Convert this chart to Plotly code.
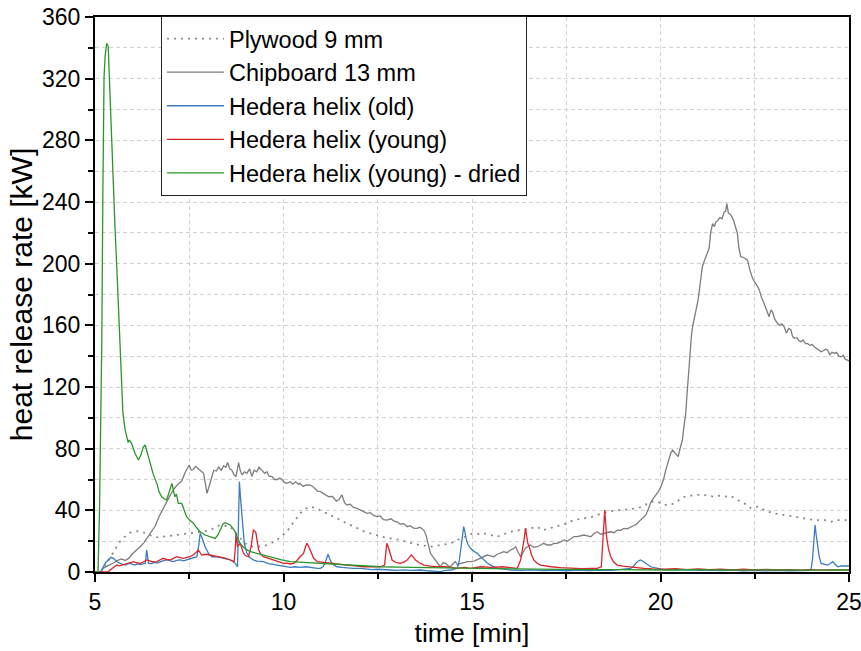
import plotly.graph_objects as go

# ---------------- data ----------------
ply_t = [5.15, 5.25, 5.31, 5.4, 5.49, 5.58, 5.66, 5.75, 5.84, 5.93, 6.02, 6.1, 6.2, 6.3, 6.37, 6.46, 6.55, 6.68, 6.81, 6.95,
         7.08, 7.25, 7.43, 7.6, 7.79, 7.92, 8.05, 8.2, 8.32, 8.45, 8.59, 8.7, 8.81, 8.9, 8.98, 9.1, 9.2, 9.38, 9.56, 9.7,
         9.83, 9.96, 10.09, 10.18, 10.3, 10.44, 10.58, 10.71, 10.85, 10.98, 11.1, 11.24, 11.38, 11.51, 11.64, 11.77, 11.9, 12.04, 12.17, 12.3,
         12.44, 12.57, 12.7, 12.84, 12.97, 13.1, 13.24, 13.37, 13.5, 13.63, 13.77, 13.9, 14.03, 14.16, 14.3, 14.43, 14.56, 14.69, 14.82, 14.96,
         15.1, 15.23, 15.31, 15.49, 15.67, 15.84, 16.02, 16.16, 16.29, 16.42, 16.55, 16.73, 16.86, 17.0, 17.2, 17.44, 17.7, 17.97, 18.15, 18.32,
         18.46, 18.59, 18.77, 18.94, 19.12, 19.39, 19.56, 19.74, 19.92, 20.01, 20.1, 20.19, 20.27, 20.45, 20.63, 20.8, 20.98, 21.16, 21.3, 21.42,
         21.55, 21.69, 21.87, 22.04, 22.17, 22.31, 22.4, 22.49, 22.58, 22.66, 22.75, 22.88, 23.02, 23.15, 23.28, 23.42, 23.55, 23.68, 23.82, 23.95,
         24.08, 24.22, 24.35, 24.52, 24.7, 24.88, 25.0]
ply_v = [0, 3, 5.6, 9, 13.2, 16.5, 19.7, 22, 24, 25.5, 26.1, 26.5, 26.1, 25.5, 25.1, 24, 22.9, 22.5, 22.9, 23.5,
         24, 24.5, 25.1, 25.5, 26.1, 26.5, 27.2, 29, 30.5, 30, 29.4, 26, 22.9, 20.5, 18.6, 17, 16.4, 16.4, 17.5, 19,
         20.8, 23.5, 26.1, 29.4, 33.5, 38, 41, 42.4, 41.5, 40.2, 38.5, 37, 35.5, 33.7, 32, 30.5, 29, 27.2, 26, 25.1,
         24, 22.9, 22.3, 21.8, 21.3, 20.8, 19.7, 18.6, 18, 17.5, 17, 16.4, 16.9, 17.5, 18, 18.6, 20, 21.8, 23, 24.5,
         25, 24.5, 25.1, 24, 22.9, 24.5, 26.1, 26.7, 27.2, 27.7, 28.3, 29.4, 27, 28, 29.5, 31, 33.7, 34.8, 35.5, 37,
         38, 39.1, 39.8, 40.2, 40.8, 41.3, 43, 45.6, 45.6, 44.5, 43.5, 43.5, 43.5, 46, 48.8, 49.5, 50, 50, 49.3, 48.8,
         49.5, 48.8, 49.3, 46.7, 45, 43.5, 41.3, 42, 42.4, 41.2, 40.2, 39, 38, 37.5, 37, 36.5, 35.9, 35.3, 34.8, 34.3,
         33.7, 33.7, 33.7, 32.6, 33.7, 33.7, 33.5]

chip_t = [5.15, 5.22, 5.3, 5.4, 5.5, 5.6, 5.7, 5.8, 5.9, 6.0, 6.1, 6.2, 6.3, 6.4, 6.5, 6.6, 6.7, 6.8, 6.9, 7.0,
          7.1, 7.2, 7.3, 7.4, 7.5, 7.55, 7.6, 7.67, 7.74, 7.82, 7.88, 7.93, 7.97, 8.02, 8.08, 8.15, 8.22, 8.28, 8.35, 8.41,
          8.47, 8.52, 8.57, 8.63, 8.69, 8.74, 8.79, 8.81, 8.85, 8.9, 8.96, 9.03, 9.1, 9.16, 9.22, 9.29, 9.35, 9.43, 9.5, 9.56,
          9.62, 9.69, 9.76, 9.83, 9.9, 9.96, 10.03, 10.09, 10.18, 10.25, 10.32, 10.4, 10.44, 10.52, 10.6, 10.71, 10.8, 10.9, 10.98, 11.05,
          11.12, 11.2, 11.3, 11.4, 11.47, 11.55, 11.62, 11.68, 11.77, 11.85, 11.95, 12.05, 12.12, 12.22, 12.3, 12.4, 12.48, 12.56, 12.65, 12.75,
          12.85, 12.93, 13.01, 13.1, 13.18, 13.28, 13.36, 13.45, 13.54, 13.62, 13.72, 13.78, 13.81, 13.86, 13.9, 13.96, 14.03, 14.1, 14.16, 14.23,
          14.3, 14.37, 14.43, 14.5, 14.56, 14.62, 14.69, 14.78, 14.87, 14.96, 15.05, 15.14, 15.23, 15.31, 15.4, 15.49, 15.58, 15.67, 15.75, 15.84,
          15.93, 16.02, 16.09, 16.16, 16.22, 16.29, 16.35, 16.42, 16.48, 16.55, 16.64, 16.73, 16.82, 16.9, 17.0, 17.09, 17.17, 17.26, 17.35, 17.44,
          17.53, 17.62, 17.7, 17.79, 17.88, 17.97, 18.06, 18.15, 18.24, 18.32, 18.41, 18.5, 18.59, 18.68, 18.77, 18.85, 18.94, 19.03, 19.12, 19.21,
          19.28, 19.34, 19.4, 19.47, 19.54, 19.61, 19.68, 19.74, 19.8, 19.87, 19.94, 20.01, 20.08, 20.14, 20.2, 20.27, 20.32, 20.36, 20.42, 20.47,
          20.52, 20.58, 20.62, 20.67, 20.7, 20.73, 20.76, 20.79, 20.82, 20.85, 20.9, 20.96, 21.0, 21.02, 21.06, 21.11, 21.15, 21.2, 21.25, 21.29,
          21.33, 21.38, 21.43, 21.47, 21.52, 21.58, 21.63, 21.69, 21.73, 21.76, 21.8, 21.87, 21.94, 22.0, 22.04, 22.08, 22.13, 22.2, 22.26, 22.31,
          22.37, 22.44, 22.5, 22.56, 22.62, 22.68, 22.75, 22.82, 22.88, 22.93, 22.97, 23.03, 23.1, 23.16, 23.22, 23.28, 23.34, 23.4, 23.46, 23.5,
          23.55, 23.62, 23.67, 23.72, 23.78, 23.85, 23.9, 23.96, 24.02, 24.08, 24.14, 24.2, 24.26, 24.32, 24.38, 24.43, 24.49, 24.55, 24.61, 24.67,
          24.73, 24.79, 24.85, 24.9, 24.96, 25.0]
chip_v = [0, 2.4, 3.5, 4.5, 6, 7.5, 8.5, 7.5, 9, 12, 14, 16.4, 19, 22.5, 26, 30, 36, 41, 45, 50,
          54, 57, 59, 65, 69.4, 66, 66.5, 68.5, 67, 65.5, 64, 57, 51, 55, 60, 66, 65.5, 68, 66, 69,
          68, 71, 67, 66, 63, 62, 68, 71, 66, 63, 65, 64, 67, 62, 66, 65, 68, 66, 64, 65,
          62, 62, 60, 60, 61, 60, 58, 57.5, 58.6, 57, 58.5, 57, 57.5, 55.5, 56.5, 56.4, 55, 52.5, 52.1, 51,
          50, 48.8, 49, 46, 47, 50, 45, 43.5, 44, 42, 41.3, 40, 39.5, 38, 38.5, 36.5, 35.9, 36.5, 34, 33.7,
          34.5, 33, 32.6, 31, 31.5, 29.4, 30, 28.5, 28.3, 29, 27.2, 24, 20.8, 16, 12.1, 10, 7.8, 5.5, 3.4, 6,
          5.6, 4, 3.4, 5.5, 6.7, 4.5, 5.6, 6, 6.7, 6.7, 7, 8, 8.9, 10, 11, 10.5, 9.9, 11.5, 12.5, 13.2,
          12.5, 14.3, 15, 16.4, 13, 9.9, 12.5, 15.4, 16.5, 17.5, 16, 16.4, 17.5, 18.6, 17.5, 17.5, 18.5, 18.6, 19.5, 20.8,
          20, 21.8, 23, 22.9, 23.5, 24, 23.5, 22.9, 25, 26.1, 24.5, 25.1, 26, 26.1, 25.5, 27.2, 27, 28.3, 28, 29.4,
          30, 30.5, 32, 33.7, 35, 37, 41, 45, 47.5, 49.9, 52, 55.3, 60, 66.1, 71, 77, 79, 78, 76, 74.8,
          80, 85.6, 94, 103, 114, 124.5, 136, 146, 153, 159, 166, 172, 177, 180.7, 189, 198, 201, 204.5, 207, 210,
          220, 226, 224, 227, 228, 230, 229, 233.7, 234, 239, 233, 231.5, 228, 222, 219.6, 210, 204.5, 204, 203, 202.3,
          196, 190.5, 188, 186, 183, 178, 174, 170, 165.6, 170, 168.8, 164, 161.3, 160, 161, 159, 155, 158, 157, 153,
          151.6, 152, 150, 149.4, 150.5, 148, 148.3, 147, 147.5, 146.1, 145, 144.5, 142.9, 143.5, 144.5, 144, 141, 142.5, 141.8, 142.5,
          140, 139.6, 140.5, 138, 137.5, 137]

old_t = [5.0, 5.15, 5.22, 5.28, 5.35, 5.42, 5.49, 5.57, 5.66, 5.73, 5.8, 5.87, 5.93, 6.0, 6.06, 6.13, 6.2, 6.27, 6.33, 6.35,
         6.37, 6.4, 6.42, 6.5, 6.57, 6.64, 6.73, 6.8, 6.9, 7.0, 7.08, 7.17, 7.26, 7.35, 7.43, 7.52, 7.61, 7.7, 7.75, 7.79,
         7.86, 7.92, 8.01, 8.1, 8.23, 8.35, 8.47, 8.59, 8.66, 8.72, 8.78, 8.8, 8.83, 8.86, 8.9, 8.96, 9.03, 9.1, 9.2, 9.3,
         9.47, 9.6, 9.72, 9.83, 9.95, 10.05, 10.18, 10.3, 10.45, 10.6, 10.75, 10.9, 10.98, 11.05, 11.1, 11.18, 11.22, 11.26, 11.33, 11.42,
         11.55, 11.7, 11.85, 12.04, 12.2, 12.35, 12.5, 12.65, 12.84, 13.0, 13.2, 13.4, 13.63, 13.8, 14.0, 14.16, 14.3, 14.45, 14.55, 14.61,
         14.66, 14.69, 14.74, 14.78, 14.82, 14.85, 14.9, 14.96, 15.05, 15.14, 15.22, 15.31, 15.4, 15.49, 15.58, 15.67, 15.85, 16.02, 16.3, 16.6,
         16.9, 17.2, 17.5, 17.8, 18.1, 18.4, 18.7, 19.0, 19.21, 19.3, 19.34, 19.4, 19.47, 19.54, 19.61, 19.68, 19.74, 19.83, 19.92, 20.1,
         20.4, 20.7, 21.0, 21.3, 21.6, 21.9, 22.2, 22.5, 22.8, 23.1, 23.4, 23.7, 23.99, 24.03, 24.06, 24.1, 24.13, 24.17, 24.21, 24.26,
         24.35, 24.43, 24.5, 24.57, 24.63, 24.7, 24.79, 24.9, 25.0]
old_v = [0, 0, 3.4, 6, 7.8, 9.5, 8.9, 7, 5.6, 5, 4.5, 5.2, 5.6, 5, 4.5, 5.3, 4.8, 5.2, 5.6, 9,
         14.3, 9, 5.6, 5.5, 6.2, 5.8, 6.7, 7.2, 7.8, 7.2, 6.7, 7.5, 7.8, 7.2, 7.8, 8.5, 8.9, 9.9, 17, 25.1,
         20.8, 16.4, 12.1, 9.9, 9.9, 9.3, 8.5, 7.8, 6.8, 5.6, 3.4, 30, 58.6, 48, 35.9, 18.6, 12.1, 9.5, 7.8, 7,
         6.7, 5.5, 5, 4.5, 4.2, 3.5, 3.0, 3.4, 3.0, 3.4, 2.8, 2.4, 2.4, 3.5, 5.6, 11.5, 9, 6.7, 4.5, 3.4,
         3.0, 2.6, 2.4, 2.4, 2.0, 1.6, 1.8, 1.4, 1.3, 1.0, 1.4, 1.0, 1.3, 0.8, 0.5, 0.3, 1.0, 1.3, 2.0, 2.4,
         7, 12.1, 22, 29.4, 25, 20.8, 17.5, 15.4, 13.5, 12.1, 10, 7.8, 6, 4.5, 3.4, 2.4, 1.8, 1.3, 1.0, 1.4,
         0.9, 1.3, 0.8, 1.2, 0.9, 1.3, 1.0, 1.6, 2.4, 4, 5.6, 7, 7.8, 6.8, 5.6, 4.5, 3.4, 2.8, 2.4, 1.6,
         1.2, 1.5, 1.0, 1.3, 0.9, 1.2, 0.8, 1.1, 0.7, 1.0, 0.8, 1.1, 1.0, 8, 16.4, 30.5, 24, 16.4, 10, 5.6,
         4.8, 4.5, 5.5, 6.7, 5, 3.4, 3.9, 3.9, 3.9]

young_t = [5.0, 5.35, 5.4, 5.5, 5.58, 5.65, 5.71, 5.78, 5.84, 5.93, 6.02, 6.1, 6.2, 6.28, 6.37, 6.45, 6.55, 6.64, 6.72, 6.81,
           6.9, 6.99, 7.08, 7.17, 7.26, 7.35, 7.44, 7.52, 7.6, 7.66, 7.74, 7.8, 7.83, 7.95, 8.05, 8.18, 8.32, 8.45, 8.59, 8.69,
           8.72, 8.74, 8.78, 8.82, 8.85, 8.9, 8.94, 9.0, 9.07, 9.14, 9.2, 9.24, 9.27, 9.34, 9.4, 9.47, 9.6, 9.74, 9.87, 10.0,
           10.1, 10.18, 10.27, 10.36, 10.44, 10.53, 10.58, 10.62, 10.66, 10.71, 10.8, 10.9, 11.05, 11.24, 11.45, 11.68, 11.9, 12.13, 12.35, 12.57,
           12.68, 12.71, 12.74, 12.79, 12.84, 12.88, 12.98, 13.1, 13.2, 13.28, 13.34, 13.39, 13.45, 13.5, 13.6, 13.72, 13.9, 14.07, 14.3, 14.45,
           14.61, 14.8, 14.96, 15.23, 15.5, 15.8, 16.0, 16.2, 16.29, 16.34, 16.38, 16.42, 16.45, 16.48, 16.53, 16.58, 16.64, 16.72, 16.82, 16.95,
           17.09, 17.35, 17.62, 17.9, 18.15, 18.32, 18.43, 18.46, 18.48, 18.52, 18.55, 18.57, 18.62, 18.68, 18.76, 18.85, 19.0, 19.12, 19.35, 19.56,
           19.8, 20.1, 20.4, 20.7, 21.0, 21.3, 21.6, 21.9, 22.2, 22.5, 22.8, 23.1, 23.4, 23.7, 24.0, 24.3, 24.6, 25.0]
young_v = [0, 0, 1.3, 3, 4.5, 4, 4.5, 5, 5.6, 6.2, 6.7, 6.0, 5.6, 6.5, 7.8, 7.2, 6.5, 6.7, 7.8, 8.9,
           8.2, 7.8, 8.8, 9.9, 9.3, 8.9, 9.5, 9.9, 11, 12.1, 14.3, 12, 11, 11.5, 11, 10.5, 9.9, 9, 7.8, 6.7,
           15, 25.1, 16.4, 18, 18.6, 15, 12.1, 10.5, 9.9, 16.4, 27.2, 26.5, 25.1, 14.3, 11.5, 9.9, 8.8, 7.8, 6.5, 5.6,
           5.8, 5.2, 5.6, 7.5, 9.9, 12.1, 16, 18.6, 17, 14.3, 8.9, 6.7, 6.2, 5.6, 5.0, 4.5, 4.0, 3.4, 3.5, 3.4,
           4.5, 12, 18.6, 15.4, 11, 7.8, 6.2, 5.6, 6.5, 7.8, 9.5, 11, 9.5, 7.8, 6, 4.5, 3.8, 3.4, 3.4, 3.0,
           2.4, 3.0, 2.4, 3.4, 3.0, 3.4, 2.8, 2.4, 7.8, 14, 20.8, 28.3, 24, 18.6, 15.4, 11, 7.8, 5.8, 4.5, 3.8,
           3.4, 2.8, 2.4, 2.2, 2.4, 2.4, 3.4, 15, 27.2, 40.2, 30, 22.9, 15, 9.9, 6.5, 4.5, 3.8, 3.4, 2.8, 2.4,
           2.0, 1.8, 2.2, 1.6, 2.0, 1.5, 1.9, 1.4, 1.8, 1.3, 1.7, 1.3, 1.6, 1.2, 1.5, 1.2, 1.4, 1.2]

dried_t = [5.0, 5.08, 5.12, 5.15, 5.18, 5.21, 5.24, 5.27, 5.31, 5.35, 5.39, 5.44, 5.49, 5.53, 5.6, 5.66, 5.7, 5.74, 5.8, 5.88,
           5.91, 5.97, 6.06, 6.15, 6.22, 6.28, 6.33, 6.4, 6.46, 6.55, 6.64, 6.7, 6.77, 6.83, 6.9, 6.97, 7.04, 7.08, 7.12, 7.16,
           7.21, 7.3, 7.36, 7.43, 7.52, 7.61, 7.7, 7.79, 7.92, 8.05, 8.19, 8.26, 8.32, 8.39, 8.45, 8.52, 8.59, 8.65, 8.72, 8.78,
           8.85, 8.94, 9.03, 9.15, 9.29, 9.5, 9.74, 9.95, 10.18, 10.5, 10.98, 11.3, 11.68, 12.1, 12.57, 13.0, 13.45, 13.9, 14.34, 14.8,
           15.23, 15.7, 16.2, 16.7, 17.2, 17.7, 18.2, 18.7, 19.2, 19.7, 20.2, 20.7, 21.2, 21.7, 22.2, 22.7, 23.2, 23.7, 24.2, 24.7, 25.0]
dried_v = [0, 0, 40, 90, 150, 250, 321, 335, 343, 341, 312, 278, 250, 224, 185, 150, 125, 103, 92, 84,
           85.6, 83.5, 77, 72.6, 76, 81, 82.4, 76, 70.5, 63, 57.5, 52, 48.8, 47.5, 46.7, 52, 57.5, 53, 48.8, 50.5,
           44.5, 44.5, 40, 35.9, 33.5, 31.6, 28.5, 26.1, 24, 22.9, 21.8, 24, 27.2, 31, 32.0, 31.5, 30.5, 28.5, 26.1, 22,
           18.6, 16, 14.3, 13, 12.1, 10.5, 8.9, 7.8, 6.7, 6.2, 5.6, 5.0, 4.5, 3.9, 3.4, 3.2, 3.0, 2.6, 2.4, 2.5,
           2.4, 2.2, 2.0, 1.9, 1.7, 1.6, 1.5, 1.6, 1.4, 1.5, 1.3, 1.5, 1.3, 1.5, 1.2, 1.4, 1.2, 1.4, 1.2, 1.3, 1.3]

x_ticks = [5, 10, 15, 20, 25]
y_ticks = [0, 40, 80, 120, 160, 200, 240, 280, 320, 360]

# ---------------- figure ----------------
FONT = "Arial, 'Liberation Sans', Helvetica, sans-serif"
GRID = "#d2d2d2"
fig = go.Figure()
fig.add_trace(go.Scatter(x=ply_t, y=ply_v, mode="lines", name="Plywood 9 mm",
                         line=dict(color="#8a8a8a", width=1.8, dash="2px,5px")))
fig.add_trace(go.Scatter(x=chip_t, y=chip_v, mode="lines", name="Chipboard 13 mm",
                         line=dict(color="#7d7d7d", width=1.3)))
fig.add_trace(go.Scatter(x=old_t, y=old_v, mode="lines", name="Hedera helix (old)",
                         line=dict(color="#3a7cc4", width=1.3)))
fig.add_trace(go.Scatter(x=young_t, y=young_v, mode="lines", name="Hedera helix (young)",
                         line=dict(color="#d9262b", width=1.3)))
fig.add_trace(go.Scatter(x=dried_t, y=dried_v, mode="lines", name="Hedera helix (young) - dried",
                         line=dict(color="#2b952b", width=1.3)))

common = dict(showline=True, linecolor="black", linewidth=2, mirror=True,
              ticks="outside", ticklen=8, tickwidth=1.5, tickcolor="black",
              showgrid=True, gridcolor=GRID, gridwidth=1, griddash="4px,3px",
              zeroline=False, automargin=False, ticklabeloverflow="allow",
              tickfont=dict(size=23, color="black", family=FONT))
fig.update_xaxes(range=[5, 25], tickvals=x_ticks,
                 minor=dict(dtick=2.5, tick0=5, ticks="outside", ticklen=5, tickwidth=1.5, tickcolor="black",
                            showgrid=True, gridcolor=GRID, griddash="4px,3px"),
                 title=dict(text="time [min]", font=dict(size=26.5, color="black", family=FONT), standoff=10),
                 **common)
fig.update_yaxes(range=[0, 360], tickvals=y_ticks,
                 minor=dict(dtick=20, tick0=0, ticks="outside", ticklen=5, tickwidth=1.5, tickcolor="black",
                            showgrid=True, gridcolor=GRID, griddash="4px,3px"),
                 title=dict(text="heat release rate [kW]", font=dict(size=30, color="black", family=FONT), standoff=1),
                 **common)

fig.update_layout(
    width=861, height=651, autosize=False,
    margin=dict(l=95, r=12, t=17, b=79),
    plot_bgcolor="white", paper_bgcolor="white",
    font=dict(family=FONT, color="black"),
    legend=dict(x=0.0875, y=1.002, xanchor="left", yanchor="top",
                bgcolor="white", bordercolor="#222222", borderwidth=1,
                font=dict(size=23.5, color="black", family=FONT),
                itemwidth=57, tracegroupgap=0),
    showlegend=True,
)

# remove the browser's default 8px body margin so the figure fills the window
fig.write_html("out.html", config={"displayModeBar": False},
               post_script="document.body.style.margin='0px';document.body.style.overflow='hidden';")
